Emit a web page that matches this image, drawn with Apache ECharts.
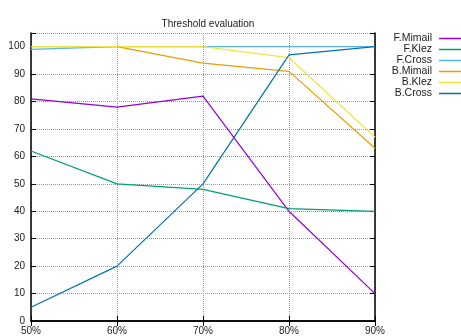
<!DOCTYPE html>
<html><head><meta charset="utf-8">
<script src="https://cdn.jsdelivr.net/npm/echarts@6/dist/echarts.min.js"></script>
<style>html,body{margin:0;padding:0;background:#fff}#c{width:461px;height:336px}</style>
</head><body><div id="c"></div>
<script>
const categories = ['50%','60%','70%','80%','90%'];
const seriesNames = ['F.Mimail','F.Klez','F.Cross','B.Mimail','B.Klez','B.Cross'];
const fMimail = [81, 78, 82, 40, 10];
const fKlez = [62, 50, 48, 41, 40];
const fCross = [99, 100, 100, 100, 100];
const bMimail = [100, 100, 94, 91, 63];
const bKlez = [100, 100, 100, 96, 67];
const bCross = [5, 20, 50, 97, 100];
const yTicks = [0,10,20,30,40,50,60,70,80,90,100];
const colors = ['#9400d3','#009e73','#56b4e9','#e69f00','#f0e442','#0072b2'];
const allData = [fMimail, fKlez, fCross, bMimail, bKlez, bCross];

const font = 'Liberation Sans, Arial, sans-serif';
const chart = echarts.init(document.getElementById('c'));
const grid = {left: 31, right: 86, top: 33, bottom: 13.5};
const splitLine = {show: true, lineStyle: {color: '#999', type: [1, 1], width: 1}};
chart.setOption({
  animation: false,
  color: colors,
  title: {text: 'Threshold evaluation', left: 203, top: 14, textAlign: 'center',
    textStyle: {fontFamily: font, fontSize: 10, fontWeight: 'normal', color: '#222'}},
  legend: {
    orient: 'vertical', right: -13, top: 28, align: 'right',
    icon: 'rect', itemWidth: 30, itemHeight: 1.5, itemGap: 0,
    data: seriesNames,
    textStyle: {fontFamily: font, fontSize: 10.5, color: '#222', lineHeight: 9.4, padding: [0, 2, 0, 0]}
  },
  grid: grid,
  xAxis: [{
    type: 'category', data: categories, boundaryGap: false,
    axisLine: {lineStyle: {color: '#000', width: 1.5}, onZero: false},
    axisTick: {inside: true, length: 5, lineStyle: {color: '#000'}},
    axisLabel: {fontFamily: font, fontSize: 10, color: '#222', margin: 5},
    splitLine: splitLine
  }, {
    type: 'category', data: categories, boundaryGap: false, position: 'top',
    axisLine: {lineStyle: {color: '#000', width: 1.5}},
    axisTick: {inside: true, length: 5, lineStyle: {color: '#000'}},
    axisLabel: {show: false}, splitLine: {show: false}
  }],
  yAxis: [{
    type: 'value', min: 0, max: 105, interval: 10,
    axisLine: {show: true, lineStyle: {color: '#000', width: 1.5}},
    axisTick: {show: true, inside: true, length: 5, lineStyle: {color: '#000'}},
    axisLabel: {fontFamily: font, fontSize: 10, color: '#222', margin: 6,
      formatter: v => yTicks.indexOf(v) >= 0 ? String(v) : ''},
    splitLine: splitLine
  }, {
    type: 'value', min: 0, max: 105, interval: 10, position: 'right',
    axisLine: {show: true, lineStyle: {color: '#000', width: 1.5}},
    axisTick: {show: true, inside: true, length: 5, lineStyle: {color: '#000'}},
    axisLabel: {show: false}, splitLine: {show: false}
  }],
  series: seriesNames.map((n, i) => ({
    name: n, type: 'line', data: allData[i], symbol: 'none',
    lineStyle: {width: 1.2, color: colors[i]}, itemStyle: {color: colors[i]},
    z: 2 + i
  }))
});
</script></body></html>
